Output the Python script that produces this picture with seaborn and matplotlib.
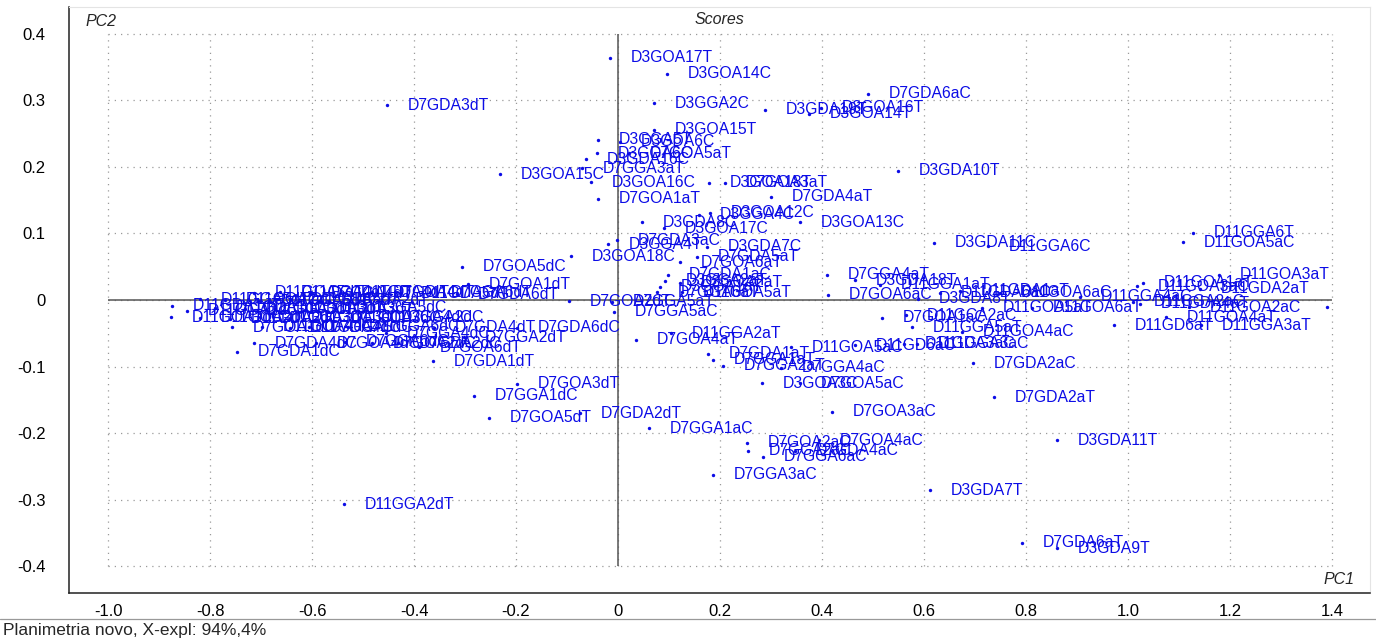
import numpy as np
import matplotlib
matplotlib.use("Agg")
import matplotlib.pyplot as plt
import seaborn as sns
import pandas as pd
from matplotlib.lines import Line2D
from matplotlib.ticker import MultipleLocator, FuncFormatter

# sample names and scores (PC1, PC2)
names = [
    "D7GDA3dT", "D3GOA17T", "D3GOA14C", "D3GGA2C", "D3GDA19T", "D3GOA16T", "D3GOA14T", "D7GDA6aC",
    "D3GOA15T", "D3GGA5T", "D3GDA6C", "D3GGA6C", "D7GOA5aT", "D3GDA16C", "D7GGA3aT", "D3GOA16C",
    "D3GOA15C", "D3GOA18T", "D7GOA3aT", "D7GOA1aT", "D7GDA4aT", "D3GDA10T", "D3GOA13C", "D3GGA4C",
    "D3GOA12C", "D3GDA8C", "D3GOA17C", "D7GDA3aC", "D3GGA4T", "D3GOA18C", "D3GDA7C", "D7GOA6aT",
    "D7GDA5aT", "D7GDA1aC", "D3GGA2aT", "D3GGA1aT", "D7GGA6aT", "D3GOA2aT", "D11GDA5aT",
    "D7GOA2dT", "D7GGA5aT", "D7GGA5aC", "D7GOA4aT", "D11GGA2aT", "D7GDA1aT", "D7GGA1aT", "D7GGA2aT",
    "D7GGA4aC", "D11GOA5aC", "D11GD6aC", "D11GDA3aC", "D11GGA3aC", "D3GOA3C", "D7GOA5aC",
    "D7GOA3aC", "D7GDA2aT", "D7GDA2aC", "D7GDA2dT", "D7GGA1aC", "D7GOA4aC", "D7GOA2aC", "D7GGA2aC",
    "D7GGA6aC", "D7GDA4aC", "D7GGA3aC", "D3GDA7T", "D7GDA6aT", "D3GDA9T", "D3GDA11T",
    "D11GGA2dT", "D7GOA5dT", "D7GGA1dC", "D7GOA3dT", "D7GDA1dT", "D7GDA1dC", "D7GOA5dC", "D7GOA1dT",
    "D7GDA6dT", "D7GDA4dT", "D7GDA6dC", "D7GGA2dT", "D7GOA6dT", "D7GGA4dC",
    "D7GDA4dC", "D7GOA4dC", "D7GGA6dC", "D7GOA2dC", "D7GDA2dC",
    "D11GOA5dT", "D11GGA4dT", "D7GGA4dT", "D11GDA4dT", "D7GOA4dT", "D11GDA5dT", "D7GGA6dT",
    "D11GDA1dT", "D11GGA5dT", "D11GOA2dT", "D11GGA6dT", "D11GOA6dT", "D11GDA2dT",
    "D11GGA1dC", "D11GDA1dC", "D11GGA3dT", "D11GOA3dT", "D11GDA3dT", "D11GGA5dC",
    "D11GOA1dC", "D11GOA2dC", "D11GDA2dC", "D11GGA3dC", "D11GOA3dC", "D11GDA3dC", "D11GGA4dC", "D7GGA2dC",
    "D7GOA1dC", "D11GOA4dC", "D11GDA4dC", "D7GGA5dC", "D11GGA6dC",
    "D11GGA6T", "D11GOA5aC", "D3GDA11C", "D11GGA6C", "D11GOA3aT", "D11GDA2aT", "D11GOA3aC", "D11GOA1aT",
    "D11GOA2aC", "D11GDA3aT", "D11GGA2aC", "D11GDA4aT", "D11GOA4aT", "D11GD6aT", "D11GGA3aT", "D11GGA4aC",
    "D3GDA8T", "D11GDA6aC", "D11GDA1aT", "D11GOA6aC", "D11GOA5aT", "D11GOA6aT", "D11GCA2aC", "D7GOA1aC",
    "D11GGA5aT", "D11GOA4aC", "D7GGA4aT", "D3GDA18T", "D7GOA6aC", "D11GGA1aT",
]
pc1 = [
    -0.453, -0.016, 0.096, 0.071, 0.288, 0.398, 0.375, 0.490,
    0.071, -0.040, 0.004, -0.041, 0.022, -0.063, -0.070, -0.053,
    -0.231, 0.178, 0.210, -0.039, 0.300, 0.549, 0.357, 0.159,
    0.180, 0.047, 0.090, -0.002, -0.020, -0.092, 0.175, 0.122,
    0.155, 0.098, 0.092, 0.082, 0.076, 0.122, 0.125,
    -0.096, -0.012, -0.008, 0.035, 0.104, 0.176, 0.186, 0.206,
    0.320, 0.339, 0.465, 0.560, 0.586, 0.282, 0.357,
    0.420, 0.737, 0.696, -0.075, 0.061, 0.394, 0.253, 0.255,
    0.284, 0.347, 0.186, 0.612, 0.792, 0.861, 0.861,
    -0.537, -0.253, -0.282, -0.198, -0.363, -0.747, -0.306, -0.294,
    -0.316, -0.360, -0.198, -0.302, -0.390, -0.455,
    -0.714, -0.592, -0.535, -0.482, -0.431,
    -0.714, -0.663, -0.604, -0.545, -0.482, -0.427, -0.369,
    -0.875, -0.820, -0.771, -0.702, -0.643, -0.584,
    -0.845, -0.790, -0.731, -0.673, -0.614, -0.555,
    -0.876, -0.820, -0.761, -0.702, -0.643, -0.565, -0.506, -0.467,
    -0.757, -0.698, -0.643, -0.606, -0.530,
    1.127, 1.108, 0.620, 0.725, 1.178, 1.141, 1.018, 1.030,
    1.120, 1.390, 1.010, 1.024, 1.075, 0.973, 1.143, 0.906,
    0.588, 0.631, 0.671, 0.749, 0.714, 0.812, 0.565, 0.518,
    0.576, 0.675, 0.410, 0.465, 0.412, 0.514,
]
pc2 = [
    0.293, 0.364, 0.340, 0.296, 0.286, 0.289, 0.280, 0.310,
    0.256, 0.241, 0.238, 0.221, 0.221, 0.212, 0.198, 0.177,
    0.189, 0.176, 0.176, 0.152, 0.155, 0.194, 0.117, 0.128,
    0.131, 0.117, 0.108, 0.090, 0.084, 0.066, 0.080, 0.057,
    0.065, 0.038, 0.029, 0.020, 0.012, 0.026, 0.012,
    -0.002, -0.003, -0.018, -0.060, -0.050, -0.081, -0.090, -0.099,
    -0.102, -0.071, -0.068, -0.066, -0.066, -0.125, -0.125,
    -0.168, -0.146, -0.095, -0.170, -0.193, -0.211, -0.215, -0.227,
    -0.236, -0.227, -0.263, -0.286, -0.365, -0.373, -0.211,
    -0.307, -0.177, -0.144, -0.126, -0.092, -0.078, 0.050, 0.024,
    0.009, -0.042, -0.042, -0.056, -0.071, -0.050,
    -0.065, -0.065, -0.063, -0.065, -0.065,
    0.011, 0.012, 0.010, 0.011, 0.012, 0.010, 0.012,
    -0.009, 0.001, 0.000, -0.002, 0.001, -0.001,
    -0.016, -0.012, -0.014, -0.013, -0.015, -0.012,
    -0.026, -0.027, -0.028, -0.026, -0.027, -0.028, -0.026, -0.027,
    -0.041, -0.040, -0.042, -0.041, -0.040,
    0.101, 0.087, 0.086, 0.081, 0.038, 0.017, 0.021, 0.026,
    -0.011, -0.011, -0.003, -0.006, -0.026, -0.038, -0.038, 0.005,
    0.002, 0.011, 0.014, 0.011, -0.012, -0.012, -0.023, -0.027,
    -0.041, -0.048, 0.038, 0.030, 0.008, 0.023,
]

df = pd.DataFrame({"name": names, "PC1": pc1, "PC2": pc2})

sns.set_style("white")
plt.rcParams["font.family"] = ["Liberation Sans", "DejaVu Sans"]
plt.rcParams["axes.unicode_minus"] = False

blue = "#0c0ce6"
fig = plt.figure(figsize=(13.76, 6.41), dpi=100)
ax = fig.add_axes([69 / 1376, 1 - 593 / 641, 1301 / 1376, 586 / 641])

# dotted grid box
for xv in np.arange(-1.0, 1.401, 0.2):
    ax.vlines(xv, -0.4, 0.4, colors="#9a9a9a", linestyles=(0, (1, 4)), lw=0.9, zorder=0)
for yv in np.arange(-0.4, 0.401, 0.1):
    ax.hlines(yv, -1.0, 1.4, colors="#9a9a9a", linestyles=(0, (1, 4)), lw=0.9, zorder=0)
ax.hlines(0, -1.0, 1.4, colors="#555555", lw=1.1, zorder=1)
ax.vlines(0, -0.4, 0.4, colors="#555555", lw=1.1, zorder=1)

sns.scatterplot(data=df, x="PC1", y="PC2", ax=ax, color=blue, s=6, linewidth=0, zorder=3)
for n, x, y in zip(names, pc1, pc2):
    if x > 1.35:
        continue  # label runs off the frame in the original
    ax.annotate(n, (x, y), xytext=(15, 0), textcoords="offset points",
                ha="left", va="center", fontsize=11.3, color=blue, clip_on=True, zorder=4)

ax.set_xlim(-1.0765, 1.4745)
ax.set_ylim(-0.4406, 0.4406)
ax.set_xlabel("")
ax.set_ylabel("")

fmt = FuncFormatter(lambda v, p: "0" if abs(v) < 1e-9 else f"{v:.1f}")
ax.xaxis.set_major_locator(MultipleLocator(0.2))
ax.xaxis.set_minor_locator(MultipleLocator(0.05))
ax.yaxis.set_major_locator(MultipleLocator(0.1))
ax.yaxis.set_minor_locator(MultipleLocator(0.01))
ax.xaxis.set_major_formatter(fmt)
ax.yaxis.set_major_formatter(fmt)
ax.tick_params(axis="x", which="major", direction="out", length=5, width=1, labelsize=12, pad=3, colors="black")
ax.tick_params(axis="x", which="minor", direction="out", length=3, width=0.8, colors="black")
ax.tick_params(axis="y", which="major", direction="out", length=12, width=1, labelsize=12, pad=5, colors="black")
ax.tick_params(axis="y", which="minor", direction="out", length=6, width=0.8, colors="black")
ax.set_xticks([v for v in ax.get_xticks() if -1.01 < v < 1.41])
ax.set_yticks([v for v in ax.get_yticks() if -0.41 < v < 0.41])

for s in ["left", "bottom"]:
    ax.spines[s].set_color("#222222")
    ax.spines[s].set_linewidth(1.1)
for s in ["top", "right"]:
    ax.spines[s].set_color("#e4e4e4")
    ax.spines[s].set_linewidth(0.8)

ax.text((86 - 69) / 1301, 1 - (21 - 7) / 586, "PC2", transform=ax.transAxes,
        fontsize=11.5, style="italic", ha="left", va="center")
ax.text(0.5, 1 - (20 - 7) / 586, "Scores", transform=ax.transAxes,
        fontsize=11.5, style="italic", ha="center", va="center")
ax.text((1355 - 69) / 1301, (593 - 580) / 586, "PC1", transform=ax.transAxes,
        fontsize=11.5, style="italic", ha="right", va="center")

fig.add_artist(Line2D([0, 1], [1 - 619 / 641] * 2, color="#999999", lw=0.9))
fig.text(3 / 1376, 1 - 631 / 641, "Planimetria novo, X-expl: 94%,4%", fontsize=12.5,
         ha="left", va="center")

fig.savefig("out.png", dpi=100)
